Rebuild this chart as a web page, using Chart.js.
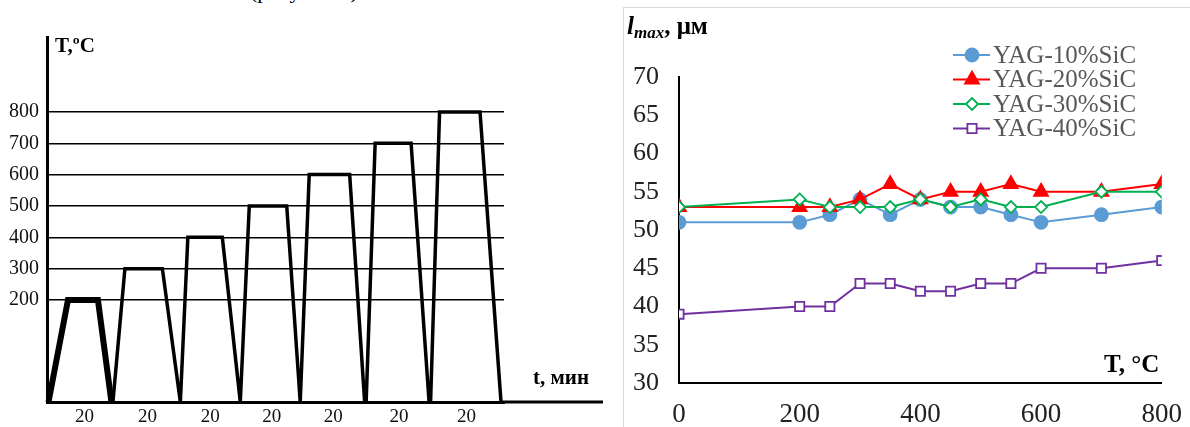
<!DOCTYPE html>
<html>
<head>
<meta charset="utf-8">
<script src="https://cdn.jsdelivr.net/npm/chart.js@4.4.1/dist/chart.umd.min.js"></script>
<style>
  body { margin: 0; background: #fff; width: 1190px; height: 427px; overflow: hidden; position: relative; font-family: 'Liberation Serif', serif; }
  .box { position: absolute; }
  .lbl { position: absolute; white-space: nowrap; color: #000; }
  #frame { position: absolute; left: 623px; top: 7px; width: 600px; height: 500px; border-left: 1px solid #d9d9d9; border-top: 1px solid #d9d9d9; }
</style>
</head>
<body>

<div class="lbl" style="left:250px; top:-22px; font-size:22px;">(рисунок 2)</div>

<!-- left: схема термоциклирования -->
<div class="box" style="left:0; top:0; width:612px; height:427px;"><canvas id="chart-rezhim"></canvas></div>
<div class="lbl" style="left:55px; top:33px; font-size:21px; font-weight:bold;">T,ºC</div>
<div class="lbl" style="left:533px; top:365px; font-size:21px; font-weight:bold;">t, мин</div>

<!-- right: l_max vs T -->
<div id="frame"></div>
<div class="box" style="left:612px; top:0; width:578px; height:427px;"><canvas id="chart-lmax"></canvas></div>
<div class="lbl" style="left:627px; top:12px; font-size:25px; font-weight:bold;"><i>l</i><sub style="font-size:17px; font-style:italic; vertical-align:-4px;">max</sub>, μм</div>
<div class="lbl" style="left:1104px; top:350px; font-size:25px; font-weight:bold;">T, °C</div>

<script>
// ===== данные: схема режима (левый график) =====
const profileTime = [1, 14, 34, 43, 44, 52, 77, 89, 89, 94, 117, 129, 129, 135, 160, 169,
                     169, 175, 202, 212, 213, 219, 243, 255, 256, 262, 289, 303];
const profileTemp = [0, 200, 200, 0, 0, 300, 300, 0, 0, 400, 400, 0, 0, 500, 500, 0,
                     0, 600, 600, 0, 0, 700, 700, 0, 0, 800, 800, 0];
const tempTicks = [200, 300, 400, 500, 600, 700, 800];
const holdTicks = [25, 67, 109, 150, 191, 235, 280];
const holdLabels = ['20', '20', '20', '20', '20', '20', '20'];

// ===== данные: l_max (правый график) =====
const tempC = [0, 200, 250, 300, 350, 400, 450, 500, 550, 600, 700, 800];
const sic10 = [51, 51, 52, 54, 52, 54, 53, 53, 52, 51, 52, 53];
const sic20 = [53, 53, 53, 54, 56, 54, 55, 55, 56, 55, 55, 56];
const sic30 = [53, 54, 53, 53, 53, 54, 53, 54, 53, 53, 55, 55];
const sic40 = [39, 40, 40, 43, 43, 42, 42, 43, 43, 45, 45, 46];
const seriesNames = ['YAG-10%SiC', 'YAG-20%SiC', 'YAG-30%SiC', 'YAG-40%SiC'];

const SERIF = "'Liberation Serif', 'Times New Roman', serif";

// шкала с разрывом: ниже 200 сжата (схема)
const BREAK_AT = 200, BREAK_FRAC = 0.2795;
class BrokenScale extends Chart.LinearScale {
    getPixelForValue(v) {
        let d;
        if (v >= BREAK_AT) d = BREAK_FRAC + (1 - BREAK_FRAC) * (v - BREAK_AT) / (this.max - BREAK_AT);
        else d = BREAK_FRAC * (v - this.min) / (BREAK_AT - this.min);
        return this.getPixelForDecimal(d);
    }
}
BrokenScale.id = 'broken';
BrokenScale.defaults = Chart.LinearScale.defaults;
Chart.register(BrokenScale);

// продолжение оси t вправо за сетку
const axisExtend = {
    id: 'axisExtend',
    afterDraw(chart) {
        const c = chart.ctx, a = chart.chartArea;
        c.save();
        c.strokeStyle = '#000';
        c.lineWidth = 3;
        c.beginPath();
        c.moveTo(a.right - 2, a.bottom);
        c.lineTo(603, a.bottom);
        c.stroke();
        c.restore();
    }
};

function initRezhimChart() {
    const ctx = document.getElementById('chart-rezhim');
    new Chart(ctx.getContext('2d'), {
        type: 'line',
        data: {
            datasets: [{
                data: profileTime.map((t, i) => ({ x: t, y: profileTemp[i] })),
                borderColor: '#000',
                borderWidth: 3.5,
                pointRadius: 0,
                tension: 0,
                borderJoinStyle: 'miter',
                clip: false,
                segment: { borderWidth: c => (c.p1DataIndex <= 3 ? 6 : 3.5) }
            }]
        },
        plugins: [axisExtend],
        options: {
            responsive: true,
            maintainAspectRatio: false,
            animation: false,
            layout: { padding: { top: 37, right: 108, bottom: 0, left: 0 } },
            plugins: { legend: { display: false }, tooltip: { enabled: false } },
            scales: {
                x: {
                    type: 'linear', min: 0, max: 305,
                    afterFit: s => { s.height = 25; },
                    afterBuildTicks: s => { s.ticks = holdTicks.map(v => ({ value: v })); },
                    grid: { display: false },
                    border: { display: true, color: '#000', width: 3 },
                    ticks: { autoSkip: false, maxRotation: 0, padding: -2, color: '#111',
                             font: { family: SERIF, size: 19, lineHeight: 1 },
                             callback: (v, i) => holdLabels[i] }
                },
                y: {
                    type: 'broken', min: 0, max: 1039,
                    afterFit: s => { s.width = 47; },
                    afterBuildTicks: s => { s.ticks = tempTicks.map(v => ({ value: v })); },
                    grid: { color: '#000', lineWidth: 1.5, drawTicks: false },
                    border: { display: true, color: '#000', width: 3 },
                    ticks: { padding: 8, color: '#111', font: { family: SERIF, size: 20 } }
                }
            }
        }
    });
}

// легенда: линия + маркер, как в Excel
const lineLegend = {
    id: 'lineLegend',
    afterDraw(chart) {
        const c = chart.ctx;
        c.save();
        chart.data.datasets.forEach((ds, i) => {
            const y = 55 + i * 24.5;
            c.strokeStyle = ds.borderColor;
            c.lineWidth = 2;
            c.beginPath();
            c.moveTo(341, y);
            c.lineTo(378, y);
            c.stroke();
            c.fillStyle = ds.pointBackgroundColor;
            c.strokeStyle = ds.borderColor;
            c.lineWidth = ds.pointBorderWidth;
            Chart.helpers.drawPoint(c, { pointStyle: ds.pointStyle, radius: ds.pointRadius, rotation: 0, borderWidth: ds.pointBorderWidth }, 360, y);
            c.fillStyle = '#595959';
            c.font = '25px ' + SERIF;
            c.textBaseline = 'middle';
            c.fillText(ds.label, 381, y + 1);
        });
        c.restore();
    }
};

function initLmaxChart() {
    const ctx = document.getElementById('chart-lmax');
    const mk = (vals, i, color, style, r, fill, order) => ({
        label: seriesNames[i],
        data: tempC.map((t, k) => ({ x: t, y: vals[k] })),
        borderColor: color,
        borderWidth: 2,
        pointStyle: style,
        pointRadius: r,
        pointBackgroundColor: fill,
        pointBorderColor: color,
        pointBorderWidth: 1.8,
        tension: 0,
        order: order
    });
    new Chart(ctx.getContext('2d'), {
        type: 'line',
        data: {
            datasets: [
                mk(sic10, 0, '#5B9BD5', 'circle', 6.5, '#5B9BD5', 3),
                mk(sic20, 1, '#FF0000', 'triangle', 8, '#FF0000', 2),
                mk(sic30, 2, '#00B050', 'rectRot', 6, '#ffffff', 1),
                mk(sic40, 3, '#7030A0', 'rect', 6.5, '#ffffff', 4)
            ]
        },
        plugins: [lineLegend],
        options: {
            responsive: true,
            maintainAspectRatio: false,
            animation: false,
            layout: { padding: { top: 77, right: 25, bottom: 0, left: 0 } },
            plugins: { legend: { display: false }, tooltip: { enabled: false } },
            scales: {
                x: {
                    type: 'linear', min: 0, max: 800,
                    afterFit: s => { s.height = 44; },
                    grid: { display: false },
                    border: { display: true, color: '#000', width: 2 },
                    ticks: { stepSize: 200, padding: 8, color: '#222', maxRotation: 0,
                             font: { family: SERIF, size: 27 } }
                },
                y: {
                    min: 30, max: 70,
                    afterFit: s => { s.width = 67; },
                    grid: { display: false },
                    border: { display: true, color: '#000', width: 2 },
                    ticks: { stepSize: 5, padding: 12, color: '#222',
                             font: { family: SERIF, size: 26 } }
                }
            }
        }
    });
}

initRezhimChart();
initLmaxChart();
</script>
</body>
</html>
